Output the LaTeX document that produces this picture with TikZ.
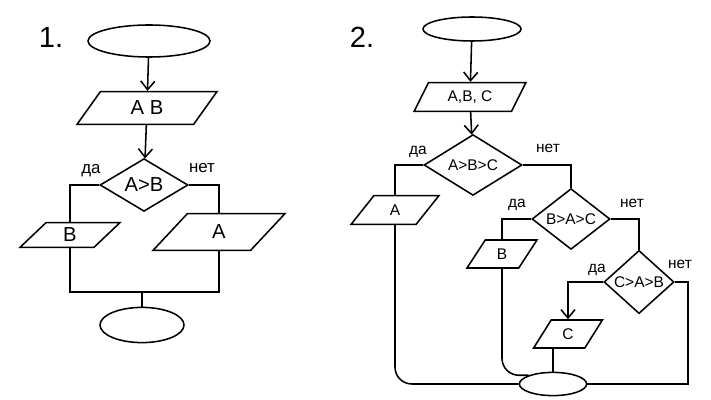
\documentclass[tikz,border=0pt]{standalone}
\usepackage{fontspec}
\setmainfont{Liberation Sans}
\usetikzlibrary{shapes.geometric,arrows.meta}
\tikzset{
  term/.style={draw,ellipse,inner sep=0pt},
  io/.style={draw,trapezium,trapezium left angle=62,trapezium right angle=118,
    trapezium stretches=true,inner sep=1pt},
  cond/.style={draw,diamond,inner sep=0pt},
  ans/.style={inner sep=1pt},
}
\begin{document}
\begin{tikzpicture}[x=0.025cm,y=-0.025cm,line width=1.1pt,
  >={Straight Barb[length=6pt,width=10pt]},font=\fontsize{11}{13}\selectfont]
\useasboundingbox (0,0) rectangle (711,400);
% first scheme
\node[font=\huge] (num1) at (51,37) {1.};
\node[term,minimum width=3.05cm,minimum height=0.8cm] (s1) at (149,41) {};
\node[io,minimum width=3.5cm,minimum height=0.82cm,font=\Large] (in1) at (147,108) {A B};
\node[cond,minimum width=2.2cm,minimum height=1.15cm,font=\Large] (c1) at (144,185) {A>B};
\node[io,minimum width=2.5cm,minimum height=0.62cm,font=\Large] (outB) at (70,235) {B};
\node[io,minimum width=3.3cm,minimum height=0.92cm,font=\Large] (outA) at (219,232) {A};
\node[term,minimum width=2.1cm,minimum height=0.88cm] (e1) at (142,325) {};
\coordinate (j1) at (142,292);
\node[ans,font=\large] (yes1) at (91,171) {да};
\node[ans,font=\large] (no1) at (202,168) {нет};
\draw[->] (s1) -- (in1);
\draw[->] (in1) -- (c1);
\draw (c1.west) -| (outB.north);
\draw (c1.east) -| (outA.north);
\draw (outB.south) |- (j1);
\draw (outA.south) |- (j1);
\draw (j1) -- (e1.north);
% second scheme
\node[font=\huge] (num2) at (362,37) {2.};
\node[term,minimum width=2.45cm,minimum height=0.6cm] (s2) at (472,29) {};
\node[io,minimum width=2.8cm,minimum height=0.72cm] (in2) at (470,97) {A,B, C};
\node[cond,minimum width=2.45cm,minimum height=1.25cm] (c2) at (473,165) {A>B>C};
\node[io,minimum width=2.2cm,minimum height=0.72cm] (outA2) at (395,210) {A};
\node[cond,minimum width=1.95cm,minimum height=1.45cm] (c3) at (571,219) {B>A>C};
\node[io,minimum width=1.75cm,minimum height=0.7cm] (outB2) at (502,254) {B};
\node[cond,minimum width=1.75cm,minimum height=1.58cm] (c4) at (639,282) {C>A>B};
\node[io,minimum width=1.72cm,minimum height=0.7cm] (outC) at (568,334) {C};
\node[term,minimum width=1.68cm,minimum height=0.58cm] (e2) at (553,384) {};
\node[ans] (yes2) at (418,152) {да};
\node[ans] (no2) at (548,148) {нет};
\node[ans] (yes3) at (517,205) {да};
\node[ans] (no3) at (632,203) {нет};
\node[ans] (yes4) at (597,270) {да};
\node[ans] (no4) at (680,264) {нет};
\draw[->] (s2) -- (in2);
\draw[->] (in2) -- (c2);
\draw (c2.west) -| (outA2.north);
\draw (c2.east) -| (c3.north);
\draw (c3.west) -| (outB2.north);
\draw (c3.east) -| (c4.north);
\draw[->] (c4.west) -| (outC.north);
\draw[rounded corners=12pt] (outA2.south) |- (e2.west);
\draw[rounded corners=12pt] (outB2.south) |- (e2.north west);
\draw (e2.north |- outC.south) -- (e2.north);
\draw (c4.east) -- ++(13,0) |- (e2.east);
\end{tikzpicture}
\end{document}
